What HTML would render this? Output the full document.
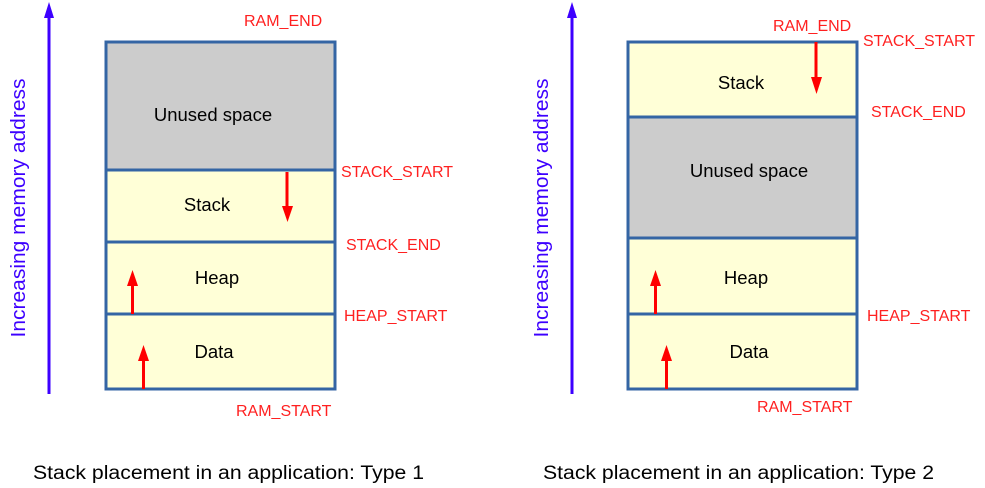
<!DOCTYPE html>
<html><head><meta charset="utf-8"><style>
html,body{margin:0;padding:0;background:#fff;}
svg{display:block;}
text{font-family:"Liberation Sans",sans-serif;}
</style></head><body>
<svg width="985" height="488" viewBox="0 0 985 488" xmlns="http://www.w3.org/2000/svg">
<!-- LEFT -->
<line x1="49" y1="394" x2="49" y2="16" stroke="#3d00ff" stroke-width="3"/>
<polygon points="44,18 54,18 49,2" fill="#3d00ff"/>
<text transform="translate(25,208) rotate(-90)" text-anchor="middle" font-size="20.5" fill="#3d00ff" textLength="259" lengthAdjust="spacingAndGlyphs">Increasing memory address</text>
<rect x="106" y="42" width="229" height="128" fill="#cccccc"/>
<rect x="106" y="170" width="229" height="219" fill="#ffffd7"/>
<g stroke="#3465a4" stroke-width="3" fill="none">
<rect x="106" y="42" width="229" height="347"/>
<line x1="106" y1="170" x2="335" y2="170"/>
<line x1="106" y1="242" x2="335" y2="242"/>
<line x1="106" y1="314" x2="335" y2="314"/>
</g>
<g font-size="18.5" text-anchor="middle">
<text x="213" y="121">Unused space</text>
<text x="207" y="211">Stack</text>
<text x="217" y="284">Heap</text>
<text x="214" y="358">Data</text>
</g>
<g fill="#ff0000">
<rect x="285.5" y="172" width="3" height="36"/><polygon points="282,206 293,206 287.5,222"/>
<rect x="131" y="284" width="3" height="30"/><polygon points="127,286 138,286 132.5,270"/>
<rect x="142" y="360" width="3" height="29"/><polygon points="138,361 149,361 143.5,345"/>
</g>
<g fill="#ff2020" font-size="16">
<text x="244" y="26">RAM_END</text>
<text x="341" y="177">STACK_START</text>
<text x="346" y="250">STACK_END</text>
<text x="344" y="321">HEAP_START</text>
<text x="236" y="416">RAM_START</text>
</g>
<text x="33" y="479" font-size="19" textLength="391" lengthAdjust="spacingAndGlyphs">Stack placement in an application: Type 1</text>

<!-- RIGHT -->
<line x1="572" y1="394" x2="572" y2="16" stroke="#3d00ff" stroke-width="3"/>
<polygon points="567,18 577,18 572,2" fill="#3d00ff"/>
<text transform="translate(548,208) rotate(-90)" text-anchor="middle" font-size="20.5" fill="#3d00ff" textLength="259" lengthAdjust="spacingAndGlyphs">Increasing memory address</text>
<rect x="628" y="42" width="229" height="75" fill="#ffffd7"/>
<rect x="628" y="117" width="229" height="121" fill="#cccccc"/>
<rect x="628" y="238" width="229" height="151" fill="#ffffd7"/>
<g stroke="#3465a4" stroke-width="3" fill="none">
<rect x="628" y="42" width="229" height="347"/>
<line x1="628" y1="117" x2="857" y2="117"/>
<line x1="628" y1="238" x2="857" y2="238"/>
<line x1="628" y1="314" x2="857" y2="314"/>
</g>
<g font-size="18.5" text-anchor="middle">
<text x="741" y="89">Stack</text>
<text x="749" y="177">Unused space</text>
<text x="746" y="284">Heap</text>
<text x="749" y="358">Data</text>
</g>
<g fill="#ff0000">
<rect x="814.5" y="42" width="3" height="37"/><polygon points="811,77 822,77 816.5,94"/>
<rect x="654" y="284" width="3" height="30"/><polygon points="650,286 661,286 655.5,270"/>
<rect x="665" y="360" width="3" height="29"/><polygon points="661,361 672,361 666.5,345"/>
</g>
<g fill="#ff2020" font-size="16">
<text x="773" y="31">RAM_END</text>
<text x="863" y="46">STACK_START</text>
<text x="871" y="117">STACK_END</text>
<text x="867" y="321">HEAP_START</text>
<text x="757" y="412">RAM_START</text>
</g>
<text x="543" y="479" font-size="19" textLength="391" lengthAdjust="spacingAndGlyphs">Stack placement in an application: Type 2</text>
</svg>
</body></html>
